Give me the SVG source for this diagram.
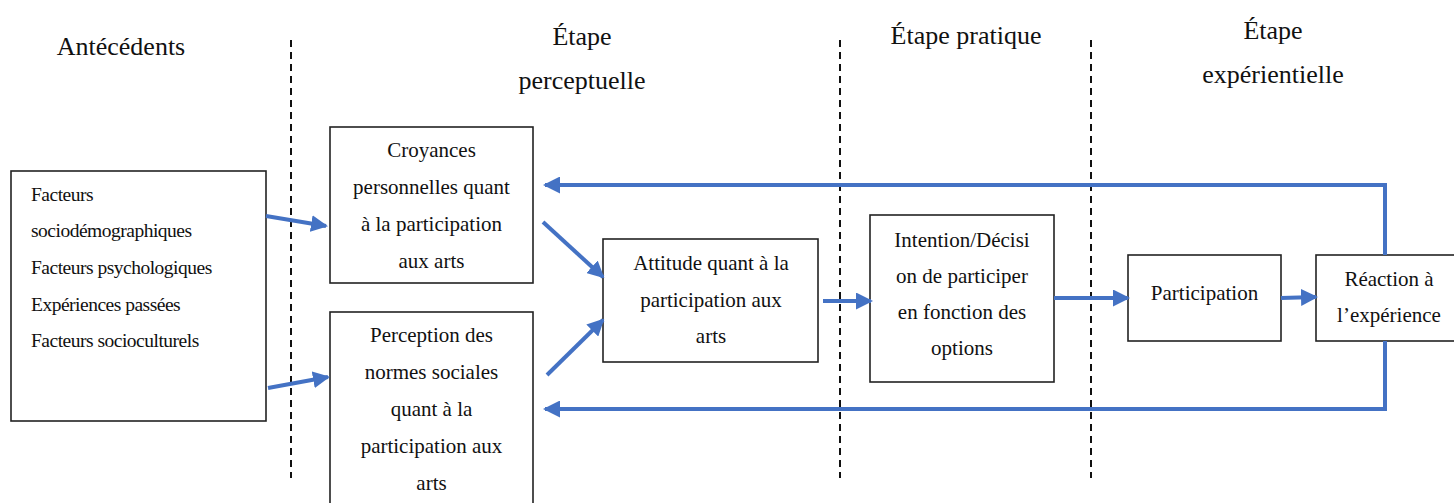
<svg xmlns="http://www.w3.org/2000/svg" width="1454" height="503" viewBox="0 0 1454 503">
<style>
.box{fill:#fff;stroke:#222;stroke-width:1.6}
text{font-family:'Liberation Serif','Times New Roman',serif;fill:#111}
.t{font-size:21px;text-anchor:middle}
.tl{font-size:19.5px;letter-spacing:-0.5px}
.h{font-size:26px;text-anchor:middle}
.dash{stroke:#111;stroke-width:2;stroke-dasharray:7,5;fill:none}
.c{stroke:#4472C4;stroke-width:4;fill:none;marker-end:url(#ah)}
</style>
<defs>
<marker id="ah" markerUnits="userSpaceOnUse" markerWidth="17" markerHeight="17" viewBox="0 0 17 17" refX="15" refY="8.5" orient="auto">
<path d="M0,0 L17,8.5 L0,17 z" fill="#4472C4"/>
</marker>
</defs>
<rect width="1454" height="503" fill="#fff"/>
<g id="headings">
<text class="h" x="121" y="55">Antécédents</text>
<text class="h" x="582" y="45">Étape</text>
<text class="h" x="582" y="89">perceptuelle</text>
<text class="h" x="966" y="44">Étape pratique</text>
<text class="h" x="1273" y="39">Étape</text>
<text class="h" x="1273" y="83">expérientielle</text>
</g>
<g id="separators">
<line class="dash" x1="291" y1="40" x2="291" y2="478"/>
<line class="dash" x1="840" y1="40" x2="840" y2="478"/>
<line class="dash" x1="1091" y1="40" x2="1091" y2="478"/>
</g>
<g id="antecedents">
<rect class="box" x="11" y="171" width="255" height="250"/>
<text class="tl" x="31" y="201">Facteurs</text>
<text class="tl" x="31" y="237">sociodémographiques</text>
<text class="tl" x="31" y="274">Facteurs psychologiques</text>
<text class="tl" x="31" y="311">Expériences passées</text>
<text class="tl" x="31" y="347">Facteurs socioculturels</text>
</g>
<g id="croyances">
<rect class="box" x="330" y="127" width="203" height="156"/>
<text class="t" x="431.5" y="157">Croyances</text>
<text class="t" x="431.5" y="194">personnelles quant</text>
<text class="t" x="431.5" y="231">à la participation</text>
<text class="t" x="431.5" y="268">aux arts</text>
</g>
<g id="perception">
<rect class="box" x="330" y="312" width="203" height="200"/>
<text class="t" x="431.5" y="342">Perception des</text>
<text class="t" x="431.5" y="379">normes sociales</text>
<text class="t" x="431.5" y="416">quant à la</text>
<text class="t" x="431.5" y="453">participation aux</text>
<text class="t" x="431.5" y="490">arts</text>
</g>
<g id="attitude">
<rect class="box" x="603" y="239" width="215" height="123"/>
<text class="t" x="711" y="270">Attitude quant à la</text>
<text class="t" x="711" y="307">participation aux</text>
<text class="t" x="711" y="343">arts</text>
</g>
<g id="intention">
<rect class="box" x="870" y="215" width="184" height="167"/>
<text class="t" x="962" y="247">Intention/Décisi</text>
<text class="t" x="962" y="283">on de participer</text>
<text class="t" x="962" y="319">en fonction des</text>
<text class="t" x="962" y="355">options</text>
</g>
<g id="participation">
<rect class="box" x="1128" y="255" width="153" height="86"/>
<text class="t" x="1204.5" y="300">Participation</text>
</g>
<g id="reaction">
<rect class="box" x="1316" y="255" width="140" height="86"/>
<text class="t" x="1389" y="286">Réaction à</text>
<text class="t" x="1389" y="322">l’expérience</text>
</g>
<g id="connectors">
<line class="c" x1="266" y1="216" x2="326" y2="226"/>
<line class="c" x1="268" y1="388" x2="328" y2="377"/>
<line class="c" x1="543" y1="222" x2="603" y2="277"/>
<line class="c" x1="547" y1="375" x2="603" y2="320"/>
<line class="c" x1="823" y1="301" x2="871" y2="301"/>
<line class="c" x1="1054" y1="298" x2="1128" y2="298"/>
<line class="c" x1="1281" y1="298" x2="1316" y2="297"/>
<path class="c" d="M1385,255 V185 H545"/>
<path class="c" d="M1385,341 V409 H545"/>
</g>
</svg>
